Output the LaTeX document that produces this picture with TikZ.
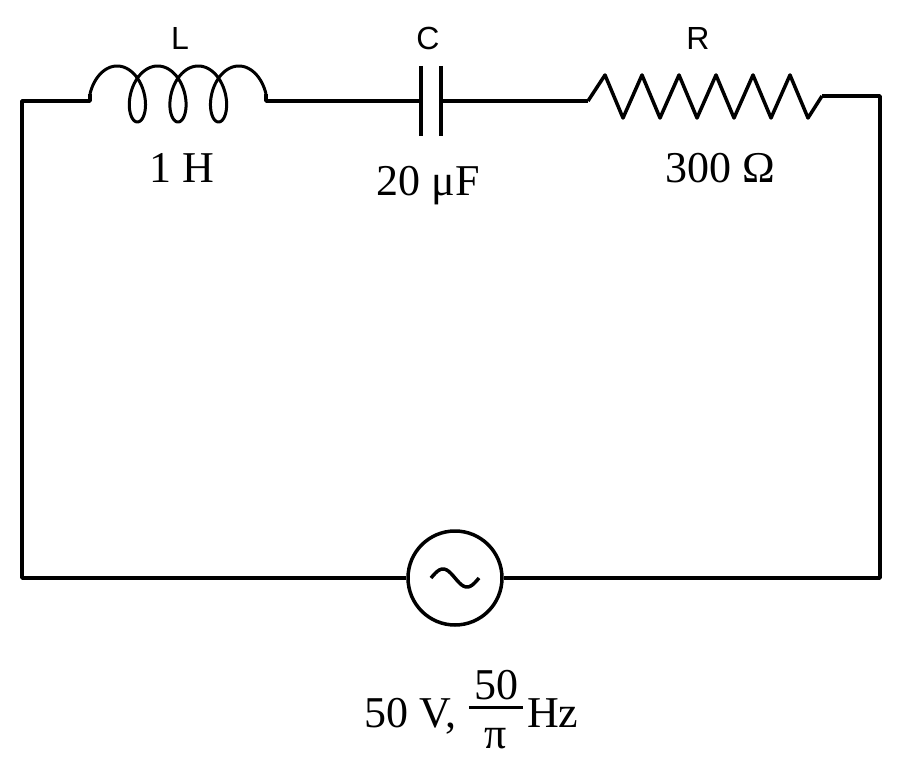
\documentclass[tikz,border=0pt]{standalone}
\usepackage{fontspec}
\setmainfont{Liberation Serif}
\newfontfamily\lblfont{Liberation Sans}
\begin{document}
\begin{tikzpicture}[x=1pt,y=-1pt,line width=3.5pt,line join=round,
  wire/.style={line width=3.5pt},
  val/.style={font=\fontsize{44}{50}\selectfont},
  lbl/.style={font=\lblfont\fontsize{32}{38}\selectfont}]
\useasboundingbox (0,0) rectangle (900,770);
\coordinate (a) at (22,578); \coordinate (b) at (22,101);
\coordinate (li) at (90,101); \coordinate (lo) at (266,101);
\coordinate (c1) at (421,101); \coordinate (c2) at (441,101);
\coordinate (ri) at (588,101); \coordinate (ro) at (822,96);
\coordinate (e) at (880,96); \coordinate (f) at (880,578);
\node[circle,draw,line width=3.5pt,minimum size=94pt] (src) at (455,578) {};
% wires
\draw[wire] (src.west) -- (a) -- (b) -- (li) -- (90,94);
\draw[wire] (266,94) -- (lo) -- (c1);
\draw[wire] (c2) -- (ri);
\draw[wire] (ro) -- (e) -- (f) -- (src.east);
% inductor
\draw[line width=3pt] plot[domain=180:1440,samples=300,smooth] ({86.7+0.1127*\x+17*cos(\x)},{94+28*sin(\x)});
% capacitor
\draw[line width=3.5pt] (421,66) -- (421,136) (441,66) -- (441,136);
% resistor
\draw[wire] (ri) -- (605,75) -- (623,118) -- (642,75) -- (660,118) -- (679,75) -- (697,118)
  -- (716,75) -- (734,118) -- (753,75) -- (771,118) -- (790,75) -- (808,118) -- (ro);
% source tilde
\draw[line width=3.5pt] plot[domain=0:360,samples=60,smooth] ({431+0.13333*\x},{578-9*sin(\x)});
% labels
\node[lbl] (tL) at (180,38) {L};
\node[lbl] (tC) at (428,38) {C};
\node[lbl] (tR) at (698,38) {R};
\node[val] (vL) at (182,168) {1 H};
\node[val] (vC) at (428,186) {20 μF};
\node[val] (vR) at (720,168) {300 Ω};
\node[val,anchor=base east] (vS) at (462,727) {50 V,};
\node[val,anchor=base] (fn) at (496,699) {50};
\node[val,anchor=base] (fd) at (496,748) {π};
\draw[line width=2.5pt] (fn.south west) ++(0,3) coordinate (fl) -- (fl -| fn.south east);
\node[val,anchor=base west] (hz) at (522,727) {Hz};
\end{tikzpicture}
\end{document}
